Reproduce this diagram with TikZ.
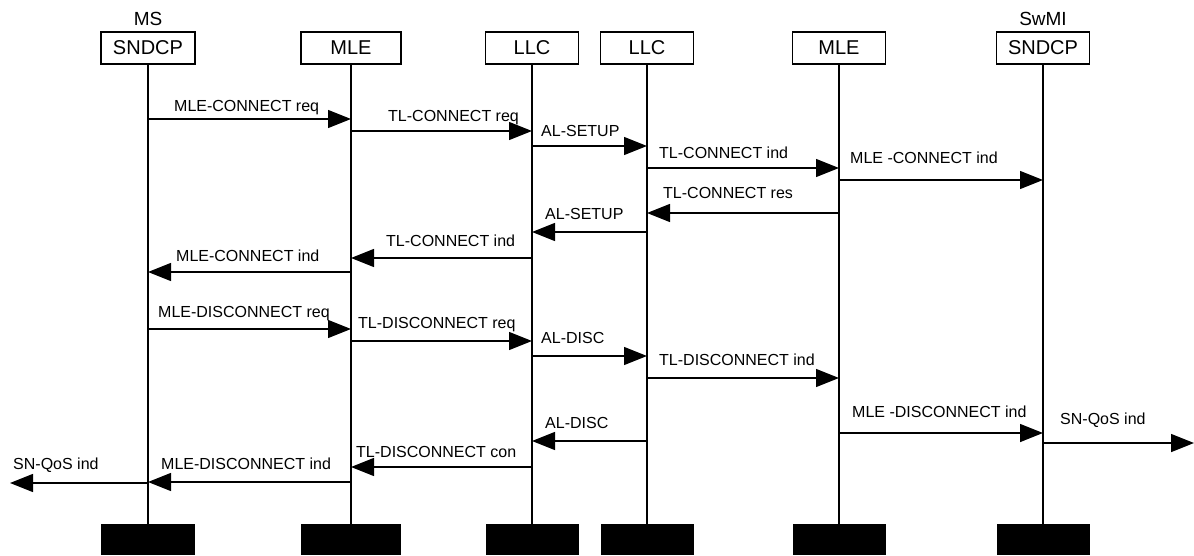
\documentclass[tikz,border=0pt]{standalone}
\usepackage{fontspec}
\setmainfont{Liberation Sans}
\usetikzlibrary{arrows.meta}
\begin{document}
\begin{tikzpicture}[x=1pt,y=-1pt,
  hbox/.style={draw,line width=1.2pt,minimum height=32pt,inner sep=0pt,font=\fontsize{20}{24}\selectfont},
  blk/.style={fill=black,minimum height=31pt,inner sep=0pt},
  life/.style={line width=1.5pt},
  msg/.style={line width=1.4pt,-{Triangle[length=23pt,width=18pt]}},
  lbl/.style={anchor=base west,inner sep=0pt,font=\fontsize{16}{19}\selectfont},
  ent/.style={anchor=base,inner sep=0pt,font=\fontsize{19}{23}\selectfont}]
\useasboundingbox (0,0) rectangle (1194,555);
% entity titles
\node[ent] (ms) at (148,25.6) {MS};
\node[ent] (swmi) at (1043,25.6) {SwMI};
% header boxes
\node[hbox,minimum width=94pt] (hA) at (148,48) {SNDCP};
\node[hbox,minimum width=100pt] (hB) at (351,48) {MLE};
\node[hbox,minimum width=93pt] (hC) at (532,48) {LLC};
\node[hbox,minimum width=93pt] (hD) at (647,48) {LLC};
\node[hbox,minimum width=93pt] (hE) at (839,48) {MLE};
\node[hbox,minimum width=93pt] (hF) at (1043,48) {SNDCP};
% bottom blocks
\node[blk,minimum width=94pt] (bA) at (148,539.5) {};
\node[blk,minimum width=100pt] (bB) at (351,539.5) {};
\node[blk,minimum width=93pt] (bC) at (532,539.5) {};
\node[blk,minimum width=93pt] (bD) at (647,539.5) {};
\node[blk,minimum width=93pt] (bE) at (839,539.5) {};
\node[blk,minimum width=93pt] (bF) at (1043,539.5) {};
% lifelines
\foreach \n in {A,B,C,D,E,F}{\draw[life] (h\n.south) -- (b\n.north);}
% free ends
\coordinate (L) at (10,0);
\coordinate (R) at (1194,0);
% y levels
\coordinate (y1) at (0,119);
\coordinate (y2) at (0,131);
\coordinate (y3) at (0,146);
\coordinate (y4) at (0,168);
\coordinate (y5) at (0,180);
\coordinate (y6) at (0,213);
\coordinate (y7) at (0,232);
\coordinate (y8) at (0,258);
\coordinate (y9) at (0,272);
\coordinate (y10) at (0,329);
\coordinate (y11) at (0,341);
\coordinate (y12) at (0,356);
\coordinate (y13) at (0,378);
\coordinate (y14) at (0,433);
\coordinate (y15) at (0,443);
\coordinate (y16) at (0,441);
\coordinate (y17) at (0,467);
\coordinate (y18) at (0,482);
\coordinate (y19) at (0,483);
% messages
\draw[msg] (hA |- y1) -- (hB |- y1);
\draw[msg] (hB |- y2) -- (hC |- y2);
\draw[msg] (hC |- y3) -- (hD |- y3);
\draw[msg] (hD |- y4) -- (hE |- y4);
\draw[msg] (hE |- y5) -- (hF |- y5);
\draw[msg] (hE |- y6) -- (hD |- y6);
\draw[msg] (hD |- y7) -- (hC |- y7);
\draw[msg] (hC |- y8) -- (hB |- y8);
\draw[msg] (hB |- y9) -- (hA |- y9);
\draw[msg] (hA |- y10) -- (hB |- y10);
\draw[msg] (hB |- y11) -- (hC |- y11);
\draw[msg] (hC |- y12) -- (hD |- y12);
\draw[msg] (hD |- y13) -- (hE |- y13);
\draw[msg] (hE |- y14) -- (hF |- y14);
\draw[msg] (hF |- y15) -- (R |- y15);
\draw[msg] (hD |- y16) -- (hC |- y16);
\draw[msg] (hC |- y17) -- (hB |- y17);
\draw[msg] (hB |- y18) -- (hA |- y18);
\draw[msg] (hA |- y19) -- (L |- y19);
% labels
\node[lbl] (l1) at (174,111.5) {MLE-CONNECT req};
\node[lbl] (l2) at (388,121.5) {TL-CONNECT req};
\node[lbl] (l3) at (541,136.5) {AL-SETUP};
\node[lbl] (l4) at (659,158.5) {TL-CONNECT ind};
\node[lbl] (l5) at (850,163.5) {MLE -CONNECT ind};
\node[lbl] (l6) at (663,198.5) {TL-CONNECT res};
\node[lbl] (l7) at (545,219.5) {AL-SETUP};
\node[lbl] (l8) at (386,246.5) {TL-CONNECT ind};
\node[lbl] (l9) at (176,261.5) {MLE-CONNECT ind};
\node[lbl] (l10) at (158,317.5) {MLE-DISCONNECT req};
\node[lbl] (l11) at (358,328.5) {TL-DISCONNECT req};
\node[lbl] (l12) at (541,343.5) {AL-DISC};
\node[lbl] (l13) at (659,365.5) {TL-DISCONNECT ind};
\node[lbl] (l14) at (852,417.5) {MLE -DISCONNECT ind};
\node[lbl] (l15) at (1060,424.5) {SN-QoS ind};
\node[lbl] (l16) at (545,428.5) {AL-DISC};
\node[lbl] (l17) at (356,457.5) {TL-DISCONNECT con};
\node[lbl] (l18) at (161,469.5) {MLE-DISCONNECT ind};
\node[lbl] (l19) at (13,469.5) {SN-QoS ind};
\end{tikzpicture}
\end{document}
